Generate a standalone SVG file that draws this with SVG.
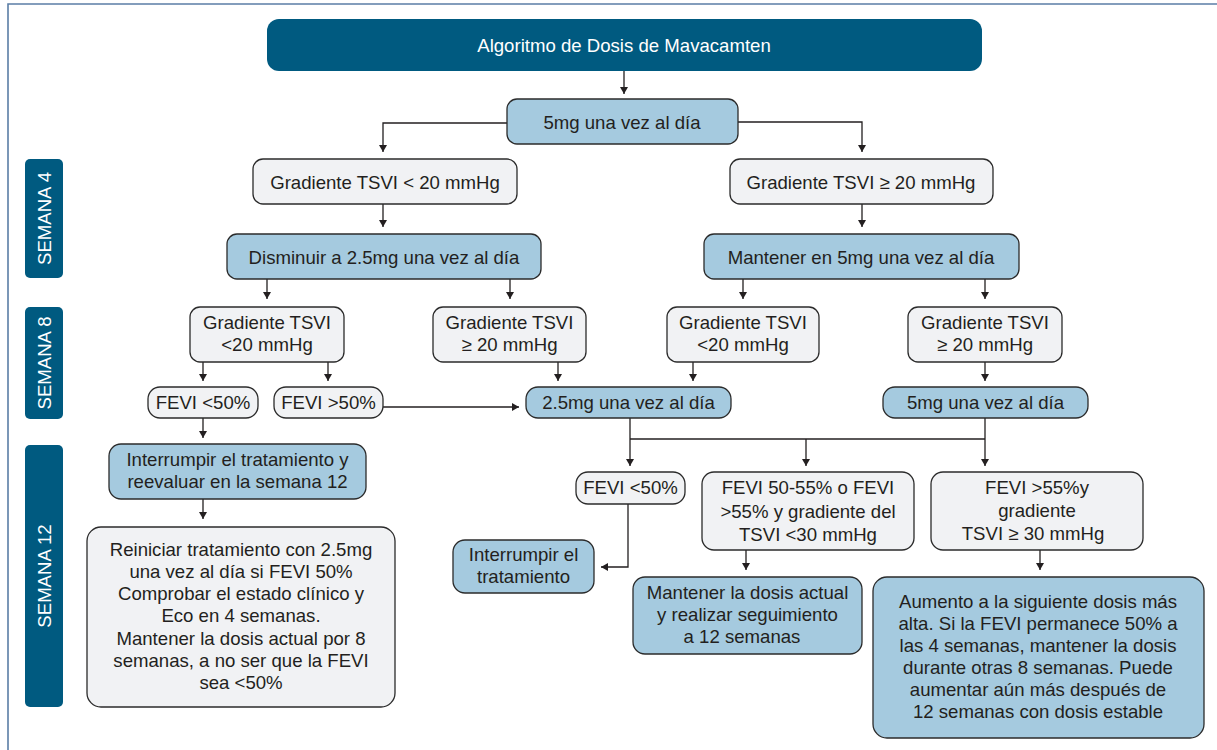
<svg xmlns="http://www.w3.org/2000/svg" width="1217" height="750" viewBox="0 0 1217 750">
  <style>
    .frame { fill: none; stroke: #5b7ea6; stroke-width: 1.6; }
    .head { fill: #005a80; }
    .band { fill: #005a80; }
    .q { fill: #f1f2f4; stroke: #2b2b2b; stroke-width: 1.3; }
    .a { fill: #a5cadf; stroke: #2b2b2b; stroke-width: 1.3; }
    text { font-family: "Liberation Sans", Arial, Helvetica, sans-serif; font-size: 18.6px; fill: #231f20; text-anchor: middle; }
    .w { fill: #ffffff; }
    .link { fill: none; stroke: #231f20; stroke-width: 1.3; }
  </style>
  <defs>
    <marker id="tip" viewBox="0 0 7 8" refX="7" refY="4" markerWidth="7" markerHeight="8" markerUnits="userSpaceOnUse" orient="auto">
      <path d="M0,0 L7,4 L0,8 z" fill="#231f20"/>
    </marker>
  </defs>

  <rect width="1217" height="750" fill="#ffffff"/>
  <path class="frame" d="M8,750 V4 H1217"/>

  <!-- week bands -->
  <g id="semana-4">
    <rect class="band" x="25" y="159" width="38" height="119" rx="5"/>
    <text class="w" transform="translate(50.5,218.5) rotate(-90)">SEMANA 4</text>
  </g>
  <g id="semana-8">
    <rect class="band" x="25" y="307" width="38" height="112" rx="5"/>
    <text class="w" transform="translate(50.5,363) rotate(-90)">SEMANA 8</text>
  </g>
  <g id="semana-12">
    <rect class="band" x="25" y="445" width="38" height="262" rx="5"/>
    <text class="w" transform="translate(50.5,576) rotate(-90)">SEMANA 12</text>
  </g>

  <!-- connectors -->
  <g id="connectors">
    <path class="link" d="M624,71 V94" marker-end="url(#tip)"/>
    <path class="link" d="M507,123 H383 V152" marker-end="url(#tip)"/>
    <path class="link" d="M738,122 H862 V152" marker-end="url(#tip)"/>
    <path class="link" d="M383,204 V227" marker-end="url(#tip)"/>
    <path class="link" d="M862,204 V227" marker-end="url(#tip)"/>
    <path class="link" d="M267,279 V299" marker-end="url(#tip)"/>
    <path class="link" d="M510,279 V299" marker-end="url(#tip)"/>
    <path class="link" d="M743,279 V299" marker-end="url(#tip)"/>
    <path class="link" d="M985,279 V299" marker-end="url(#tip)"/>
    <path class="link" d="M203,362 V381" marker-end="url(#tip)"/>
    <path class="link" d="M328,362 V381" marker-end="url(#tip)"/>
    <path class="link" d="M558,362 V381" marker-end="url(#tip)"/>
    <path class="link" d="M693,362 V381" marker-end="url(#tip)"/>
    <path class="link" d="M985,362 V381" marker-end="url(#tip)"/>
    <path class="link" d="M383,407 H519" marker-end="url(#tip)"/>
    <path class="link" d="M203,418 V438" marker-end="url(#tip)"/>
    <path class="link" d="M203,499 V519" marker-end="url(#tip)"/>
    <path class="link" d="M630,418 V466" marker-end="url(#tip)"/>
    <path class="link" d="M630,439 H985"/>
    <path class="link" d="M806,439 V466" marker-end="url(#tip)"/>
    <path class="link" d="M985,418 V466" marker-end="url(#tip)"/>
    <path class="link" d="M628,504 V567 H601" marker-end="url(#tip)"/>
    <path class="link" d="M746,550 V570" marker-end="url(#tip)"/>
    <path class="link" d="M1040,550 V570" marker-end="url(#tip)"/>
  </g>

  <!-- nodes -->
  <g id="titulo">
    <rect class="head" x="267" y="19" width="715" height="52" rx="12"/>
    <text class="w" x="624" y="51.5">Algoritmo de Dosis de Mavacamten</text>
  </g>
  <g id="dosis-inicial">
    <rect class="a" x="507" y="99" width="231" height="45" rx="10"/>
    <text x="622" y="128.5">5mg una vez al día</text>
  </g>
  <g id="s4-gradiente-bajo">
    <rect class="q" x="253" y="159" width="264" height="45" rx="10"/>
    <text x="385" y="188.5">Gradiente TSVI &lt; 20 mmHg</text>
  </g>
  <g id="s4-gradiente-alto">
    <rect class="q" x="730" y="159" width="263" height="45" rx="10"/>
    <text x="861" y="188.5">Gradiente TSVI ≥ 20 mmHg</text>
  </g>
  <g id="s4-disminuir">
    <rect class="a" x="227" y="234" width="314" height="45" rx="10"/>
    <text x="384" y="263.5">Disminuir a 2.5mg una vez al día</text>
  </g>
  <g id="s4-mantener">
    <rect class="a" x="704" y="234" width="315" height="45" rx="10"/>
    <text x="861" y="263.5">Mantener en 5mg una vez al día</text>
  </g>

  <g id="s8-a">
    <rect class="q" x="190" y="307" width="154" height="55" rx="10"/>
    <text x="267" y="328.5">Gradiente TSVI</text>
    <text x="267" y="350.5">&lt;20 mmHg</text>
  </g>
  <g id="s8-b">
    <rect class="q" x="433" y="307" width="153" height="55" rx="10"/>
    <text x="509.5" y="328.5">Gradiente TSVI</text>
    <text x="509.5" y="350.5">≥ 20 mmHg</text>
  </g>
  <g id="s8-c">
    <rect class="q" x="667" y="307" width="152" height="55" rx="10"/>
    <text x="743" y="328.5">Gradiente TSVI</text>
    <text x="743" y="350.5">&lt;20 mmHg</text>
  </g>
  <g id="s8-d">
    <rect class="q" x="908" y="307" width="154" height="55" rx="10"/>
    <text x="985" y="328.5">Gradiente TSVI</text>
    <text x="985" y="350.5">≥ 20 mmHg</text>
  </g>

  <g id="s8-fevi-menor">
    <rect class="q" x="148" y="387" width="110" height="31" rx="12"/>
    <text x="203" y="408.5">FEVI &lt;50%</text>
  </g>
  <g id="s8-fevi-mayor">
    <rect class="q" x="274" y="387" width="109" height="31" rx="12"/>
    <text x="328.5" y="408.5">FEVI &gt;50%</text>
  </g>
  <g id="s8-dosis-25">
    <rect class="a" x="526" y="387" width="205" height="31" rx="12"/>
    <text x="628.5" y="408.5">2.5mg una vez al día</text>
  </g>
  <g id="s8-dosis-5">
    <rect class="a" x="883" y="387" width="205" height="31" rx="12"/>
    <text x="985.5" y="408.5">5mg una vez al día</text>
  </g>

  <g id="s12-interrumpir-reevaluar">
    <rect class="a" x="109" y="444" width="257" height="55" rx="12"/>
    <text x="237.5" y="465.5">Interrumpir el tratamiento y</text>
    <text x="237.5" y="487.5">reevaluar en la semana 12</text>
  </g>
  <g id="s12-reiniciar">
    <rect class="q" x="87" y="527" width="308" height="180" rx="14"/>
    <text x="241" y="555.5">Reiniciar tratamiento con 2.5mg</text>
    <text x="241" y="577.5">una vez al día si FEVI 50%</text>
    <text x="241" y="600">Comprobar el estado clínico y</text>
    <text x="241" y="622">Eco en 4 semanas.</text>
    <text x="241" y="644.5">Mantener la dosis actual por 8</text>
    <text x="241" y="667">semanas, a no ser que la FEVI</text>
    <text x="241" y="688.5">sea &lt;50%</text>
  </g>
  <g id="s12-fevi-menor">
    <rect class="q" x="576" y="472" width="109" height="32" rx="12"/>
    <text x="630.5" y="494">FEVI &lt;50%</text>
  </g>
  <g id="s12-interrumpir">
    <rect class="a" x="453" y="540" width="141" height="53" rx="12"/>
    <text x="523.5" y="561">Interrumpir el</text>
    <text x="523.5" y="583">tratamiento</text>
  </g>
  <g id="s12-fevi-intermedia">
    <rect class="q" x="702" y="472" width="212" height="78" rx="12"/>
    <text x="808" y="494">FEVI 50-55% o FEVI</text>
    <text x="808" y="517.5">&gt;55% y gradiente del</text>
    <text x="808" y="541">TSVI &lt;30 mmHg</text>
  </g>
  <g id="s12-fevi-alta">
    <rect class="q" x="931" y="472" width="212" height="78" rx="12"/>
    <text x="1037" y="494">FEVI &gt;55%y</text>
    <text x="1037" y="517">gradiente</text>
    <text x="1033" y="540">TSVI ≥ 30 mmHg</text>
  </g>
  <g id="s12-mantener">
    <rect class="a" x="633" y="577" width="229" height="77" rx="12"/>
    <text x="747.5" y="599">Mantener la dosis actual</text>
    <text x="747.5" y="621">y realizar seguimiento</text>
    <text x="742" y="643">a 12 semanas</text>
  </g>
  <g id="s12-aumento">
    <rect class="a" x="873" y="577" width="331" height="161" rx="14"/>
    <text x="1038" y="608">Aumento a la siguiente dosis más</text>
    <text x="1038" y="630">alta. Si la FEVI permanece 50% a</text>
    <text x="1038" y="652">las 4 semanas, mantener la dosis</text>
    <text x="1038" y="674">durante otras 8 semanas. Puede</text>
    <text x="1038" y="696">aumentar aún más después de</text>
    <text x="1038" y="718">12 semanas con dosis estable</text>
  </g>
</svg>
